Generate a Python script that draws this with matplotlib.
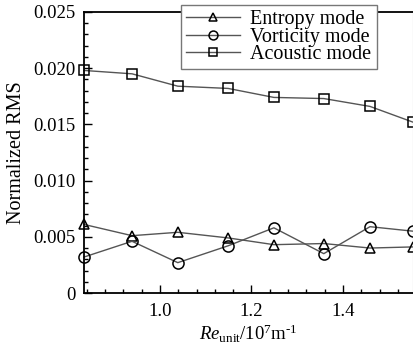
import matplotlib
matplotlib.use('Agg')
import matplotlib.pyplot as plt
from matplotlib.ticker import MultipleLocator, FuncFormatter

re_unit = [0.834, 0.939, 1.039, 1.149, 1.249, 1.358, 1.459, 1.553]
entropy = [0.0061, 0.0051, 0.0054, 0.0049, 0.0043, 0.0044, 0.0040, 0.0041]
vorticity = [0.0032, 0.0046, 0.0027, 0.0042, 0.0058, 0.0035, 0.0059, 0.0055]
acoustic = [0.0198, 0.0195, 0.0184, 0.0182, 0.0174, 0.0173, 0.0166, 0.0152]
labels = ['Entropy mode', 'Vorticity mode', 'Acoustic mode']

plt.rcParams['font.family'] = ['Liberation Serif', 'DejaVu Serif']
plt.rcParams['mathtext.fontset'] = 'custom'
plt.rcParams['mathtext.rm'] = 'Liberation Serif'
plt.rcParams['mathtext.it'] = 'Liberation Serif:italic'

fig = plt.figure(figsize=(4.14, 3.49), dpi=100)
ax = fig.add_axes([84/414, 1-293/349, (413-84)/414, (293-12)/349])

lc = '#555555'
common = dict(color=lc, lw=1.0, mfc='none', mec='black', mew=1.1, clip_on=False)
ax.plot(re_unit, entropy, marker='^', ms=7, label=labels[0], **common)
ax.plot(re_unit, vorticity, marker='o', ms=8, label=labels[1], **common)
ax.plot(re_unit, acoustic, marker='s', ms=6.5, label=labels[2], **common)

ax.set_xlim(re_unit[0], re_unit[-1])
ax.set_ylim(0, 0.025)
ax.xaxis.set_major_locator(MultipleLocator(0.2))
ax.xaxis.set_minor_locator(MultipleLocator(0.04))
ax.yaxis.set_major_locator(MultipleLocator(0.005))
ax.yaxis.set_minor_locator(MultipleLocator(0.001))
ax.yaxis.set_major_formatter(FuncFormatter(lambda v, p: '0' if abs(v) < 1e-12 else f'{v:.3f}'))
ax.xaxis.set_major_formatter(FuncFormatter(lambda v, p: f'{v:.1f}'))
ax.tick_params(which='both', direction='in', labelsize=13.5, width=1.0)
ax.tick_params(which='major', length=6)
ax.tick_params(which='minor', length=3)
ax.tick_params(axis='y', pad=6)
ax.tick_params(axis='x', pad=7)
for s in ax.spines.values():
    s.set_linewidth(1.3)
ax.spines['right'].set_color('#aaaaaa')
ax.spines['right'].set_linewidth(0.8)

ax.set_ylabel('Normalized RMS', fontsize=14.5, labelpad=5)
ax.set_xlabel('$\\mathit{Re}_{\\mathrm{unit}}\\mathrm{/10^{7}m^{\u2010 1}}$', fontsize=13.5, labelpad=2)

leg = ax.legend(loc='upper left', bbox_to_anchor=(181/414, 1-5/349), bbox_transform=fig.transFigure,
                fontsize=14.5, frameon=True, fancybox=False, framealpha=1, edgecolor='#777777',
                borderpad=0.25, labelspacing=-0.08, handlelength=2.7, handletextpad=0.5,
                borderaxespad=0, markerscale=0.8)
leg.get_frame().set_linewidth(1.0)

fig.savefig('out.png', dpi=100)
